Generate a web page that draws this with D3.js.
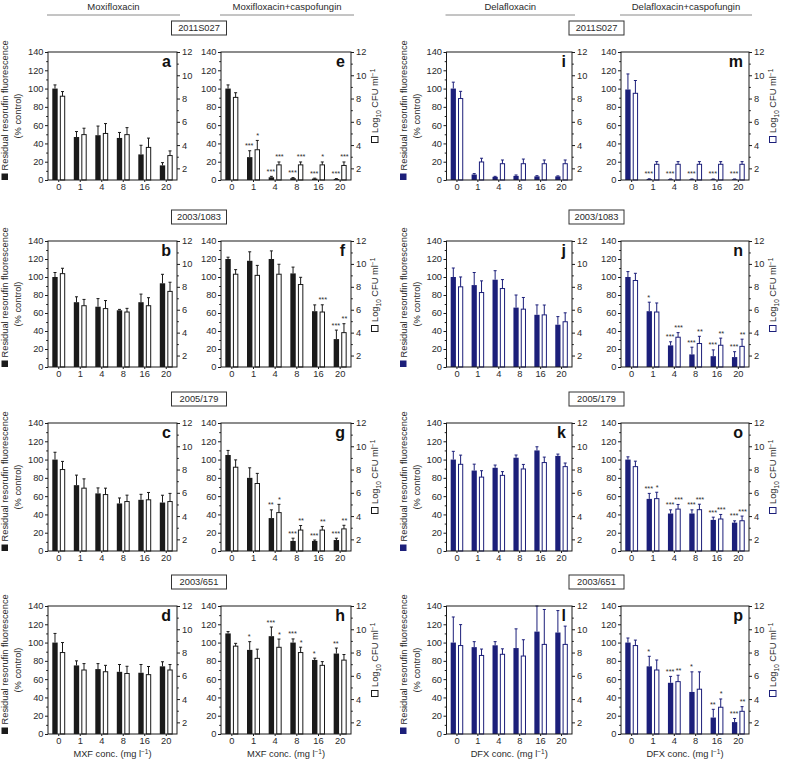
<!DOCTYPE html>
<html><head><meta charset="utf-8">
<script src="https://cdn.jsdelivr.net/npm/d3@7"></script>
<style>body{margin:0;background:#fff}svg{display:block}</style>
</head><body>
<script>
// ---------- DATA ----------
const concentrations = ["0","1","4","8","16","20"];
const leftTicks = [0,20,40,60,80,100,120,140];
const rightTicks = [2,4,6,8,10,12];
const strains = ["2011S027","2003/1083","2005/179","2003/651"];
const groupTitles = ["Moxifloxacin","Moxifloxacin+caspofungin","Delafloxacin","Delafloxacin+caspofungin"];
const xTitleDrugs = ["MXF","MXF","DFX","DFX"];

// fluorescence (% control), SD ; log10 CFU/ml, SD ; significance stars
const fluor_a=[100,47,49,46,28,16], fluorSD_a=[4,6,10,6,10,3];
const cfu_a=[8.2,4.9,5.0,4.9,3.8,3.1], cfuSD_a=[0.4,0.55,0.85,0.6,0.8,0.4];
const fluor_b=[100,72,67,63,72,93], fluorSD_b=[5,6,9,1,9,10];
const cfu_b=[9.15,6.35,6.1,5.8,6.35,7.6], cfuSD_b=[0.47,0.55,0.7,0.32,0.7,0.8];
const fluor_c=[100,72,63,52,56,53], fluorSD_c=[8,11,6,6,6,8];
const cfu_c=[8.0,6.4,5.85,5.25,5.4,5.25], cfuSD_c=[0.7,0.8,0.55,0.55,0.63,0.7];
const fluor_d=[100,75,71,68,67,74], fluorSD_d=[10,5,6,8,9,5];
const cfu_d=[8.0,6.5,6.35,6.2,6.1,6.5], cfuSD_d=[0.86,0.55,0.55,0.62,0.7,0.47];

const fluor_e=[100,25,3,2,1.5,1], fluorSD_e=[4,7,1,0.6,0.5,0.5];
const cfu_e=[8.1,3.6,2.3,2.3,2.3,2.25], cfuSD_e=[0.4,0.8,0.25,0.25,0.25,0.3];
const fluorStars_e=["","***","***","***","***","***"], cfuStars_e=["","*","***","***","*","***"];
const fluor_f=[120,118,120,104,62,31], fluorSD_f=[2,10,9,7,7,10];
const cfu_f=[9.1,9.0,9.1,8.2,5.8,4.0], cfuSD_f=[0.4,0.87,0.87,0.63,0.63,0.78];
const fluorStars_f=["","","","","","***"], cfuStars_f=["","","","","***","**"];
const fluor_g=[105,80,36,11,11,12], fluorSD_g=[5,11,9,3,1,2];
const cfu_g=[8.2,6.8,4.3,2.8,2.8,2.9], cfuSD_g=[0.63,0.87,0.71,0.39,0.31,0.31];
const fluorStars_g=["","","**","***","***","***"], cfuStars_g=["","","*","**","**","**"];
const fluor_h=[110,92,107,100,81,88], fluorSD_h=[2,9,10,4,2,6];
const cfu_h=[8.55,7.5,8.45,8.0,6.9,7.35], cfuSD_h=[0.24,0.79,0.71,0.46,0.32,0.48];
const fluorStars_h=["","*","***","***","*","**"], cfuStars_h=["","","*","*","",""];

const fluor_i=[100,6,3.5,4.5,4,4], fluorSD_i=[7,1,0.5,1,0.7,0.5];
const cfu_i=[8.0,2.55,2.4,2.4,2.4,2.4], cfuSD_i=[0.62,0.32,0.32,0.4,0.32,0.32];
const fluor_j=[100,91,97,66,58,47], fluorSD_j=[10,14,10,14,11,9];
const cfu_j=[8.0,7.5,7.85,6.05,5.55,4.95], cfuSD_j=[0.86,1.02,0.78,1.02,0.86,0.78];
const fluor_k=[100,88,91,102,110,104], fluorSD_k=[9,7,3,3,4,2];
const cfu_k=[8.45,7.35,7.5,8.05,8.6,8.25], cfuSD_k=[0.79,0.55,0.32,0.39,0.47,0.31];
const fluor_l=[100,95,97,94,112,111], fluorSD_l=[28,6,4,21,28,24];
const cfu_l=[8.6,7.75,7.85,7.7,8.7,8.7], cfuSD_l=[1.8,0.55,0.47,1.4,3.0,1.57];

const fluor_m=[99,1,0.8,0.8,0.8,0.8], fluorSD_m=[17,0.3,0.3,0.3,0.3,0.3];
const cfu_m=[8.45,2.35,2.35,2.35,2.35,2.35], cfuSD_m=[1.1,0.23,0.23,0.23,0.23,0.23];
const fluorStars_m=["","***","***","***","***","***"], cfuStars_m=["","","","","",""];
const fluor_n=[100,62,24,14,12,11], fluorSD_n=[6,10,4,8,7,6];
const cfu_n=[8.55,5.8,3.6,3.05,2.9,2.8], cfuSD_n=[0.63,0.79,0.4,0.63,0.62,0.63];
const fluorStars_n=["","*","***","***","***","***"], cfuStars_n=["","","***","**","**","**"];
const fluor_o=[100,57,41,41,34,31], fluorSD_o=[3,6,4,4,3,2];
const cfu_o=[8.25,5.5,4.6,4.55,3.75,3.6], cfuSD_o=[0.47,0.55,0.4,0.47,0.39,0.4];
const fluorStars_o=["","***","***","***","***","***"], cfuStars_o=["","*","***","***","***","***"];
const fluor_p=[100,74,56,46,18,13], fluorSD_p=[5,11,7,22,9,4];
const cfu_p=[8.6,6.5,5.5,4.85,3.3,2.95], cfuSD_p=[0.47,0.86,0.55,1.49,0.71,0.4];
const fluorStars_p=["","*","***","*","**","***"], cfuStars_p=["","","**","","*","**"];

const none6=["","","","","",""];
const panelData = {
  a:[fluor_a,fluorSD_a,cfu_a,cfuSD_a,none6,none6],
  b:[fluor_b,fluorSD_b,cfu_b,cfuSD_b,none6,none6],
  c:[fluor_c,fluorSD_c,cfu_c,cfuSD_c,none6,none6],
  d:[fluor_d,fluorSD_d,cfu_d,cfuSD_d,none6,none6],
  e:[fluor_e,fluorSD_e,cfu_e,cfuSD_e,fluorStars_e,cfuStars_e],
  f:[fluor_f,fluorSD_f,cfu_f,cfuSD_f,fluorStars_f,cfuStars_f],
  g:[fluor_g,fluorSD_g,cfu_g,cfuSD_g,fluorStars_g,cfuStars_g],
  h:[fluor_h,fluorSD_h,cfu_h,cfuSD_h,fluorStars_h,cfuStars_h],
  i:[fluor_i,fluorSD_i,cfu_i,cfuSD_i,none6,none6],
  j:[fluor_j,fluorSD_j,cfu_j,cfuSD_j,none6,none6],
  k:[fluor_k,fluorSD_k,cfu_k,cfuSD_k,none6,none6],
  l:[fluor_l,fluorSD_l,cfu_l,cfuSD_l,none6,none6],
  m:[fluor_m,fluorSD_m,cfu_m,cfuSD_m,fluorStars_m,cfuStars_m],
  n:[fluor_n,fluorSD_n,cfu_n,cfuSD_n,fluorStars_n,cfuStars_n],
  o:[fluor_o,fluorSD_o,cfu_o,cfuSD_o,fluorStars_o,cfuStars_o],
  p:[fluor_p,fluorSD_p,cfu_p,cfuSD_p,fluorStars_p,cfuStars_p]
};
const panelGrid = [["a","b","c","d"],["e","f","g","h"],["i","j","k","l"],["m","n","o","p"]];

// ---------- LAYOUT ----------
const W=786,H=763;
const colX=[48,221,446.5,621], colW=[129,130,125.5,128];
const rowY=[52,241,423,606], rowH=[128,126,128,128];
const NAVY="#1c1f7a", INK="#1a1a1a", TXT="#2a2a2a";
const FONT="'Liberation Sans', Arial, Helvetica, sans-serif";
const FS=9.3;

const svg=d3.select("body").append("svg").attr("width",W).attr("height",H)
  .style("font-family",FONT);

groupTitles.forEach((t,ci)=>{
  const x0=colX[ci]-1, x1=colX[ci]+colW[ci]+3;
  svg.append("line").attr("x1",x0).attr("x2",x1).attr("y1",15).attr("y2",15)
    .attr("stroke","#8a8a8a").attr("stroke-width",1);
  svg.append("text").attr("x",(x0+x1)/2).attr("y",10).attr("text-anchor","middle")
    .attr("font-size",9.5).attr("fill",TXT).text(t);
});

strains.forEach((s,ri)=>{
  [[0,1],[2,3]].forEach(([c0,c1])=>{
    const cx=(colX[c0]+colW[c0]+colX[c1])/2;
    const by=rowY[ri]-31;
    svg.append("rect").attr("x",cx-27.5).attr("y",by).attr("width",55).attr("height",14)
      .attr("fill","#fff").attr("stroke","#333").attr("stroke-width",1);
    svg.append("text").attr("x",cx).attr("y",by+10.3).attr("text-anchor","middle")
      .attr("font-size",FS).attr("fill",TXT).text(s);
  });
});

function drawPanel(ci,ri){
  const key=panelGrid[ci][ri];
  const [fl,flSD,cfu,cfuSD,flSt,cfuSt]=panelData[key];
  const blue=ci>=2, col=blue?NAVY:INK;
  const x0=colX[ci], y0=rowY[ri], w=colW[ci], h=rowH[ri];
  const g=svg.append("g").attr("transform",`translate(${x0},${y0})`);
  const x=d3.scaleBand().domain(concentrations).range([0,w]).padding(0);
  const yL=d3.scaleLinear().domain([0,140]).range([h,0]);
  const yR=d3.scaleLinear().domain([1,12]).range([h,0]);
  const bw=x.bandwidth(), barW=bw*0.25, gap=bw*0.1;
  const rows=concentrations.map((c,i)=>({c,fl:fl[i],flTop:Math.min(140,fl[i]+flSD[i]),cfu:cfu[i],cfuTop:Math.min(12,cfu[i]+cfuSD[i]),fs:flSt[i],cs:cfuSt[i]}));
  const cx=d=>x(d.c)+bw/2;

  g.selectAll(".fb").data(rows).join("rect")
    .attr("x",d=>cx(d)-gap/2-barW).attr("width",barW)
    .attr("y",d=>yL(d.fl)).attr("height",d=>h-yL(d.fl)).attr("fill",col);
  g.selectAll(".cb").data(rows).join("rect")
    .attr("x",d=>cx(d)+gap/2+0.5).attr("width",barW-1)
    .attr("y",d=>yR(d.cfu)).attr("height",d=>h-yR(d.cfu))
    .attr("fill","#fff").attr("stroke",col).attr("stroke-width",1);
  const eb=(xf,y1,y2)=>{
    rows.forEach(d=>{
      const xx=xf(d);
      g.append("line").attr("x1",xx).attr("x2",xx).attr("y1",y1(d)).attr("y2",y2(d)).attr("stroke",col).attr("stroke-width",1);
      g.append("line").attr("x1",xx-1.5).attr("x2",xx+1.5).attr("y1",y2(d)).attr("y2",y2(d)).attr("stroke",col).attr("stroke-width",1);
    });
  };
  eb(d=>cx(d)-gap/2-barW/2, d=>yL(d.fl), d=>yL(d.flTop));
  eb(d=>cx(d)+gap/2+barW/2, d=>yR(d.cfu), d=>yR(d.cfuTop));
  rows.forEach(d=>{
    if(d.fs) g.append("text").attr("x",cx(d)-gap/2-barW/2-0.5).attr("y",yL(d.flTop)-2.5)
      .attr("text-anchor","middle").attr("font-size",7.3).attr("fill",TXT).text(d.fs);
    if(d.cs) g.append("text").attr("x",cx(d)+gap/2+barW/2+0.5).attr("y",yR(d.cfuTop)-2.5)
      .attr("text-anchor","middle").attr("font-size",7.3).attr("fill",TXT).text(d.cs);
  });

  g.append("rect").attr("x",0).attr("y",0).attr("width",w).attr("height",h)
    .attr("fill","none").attr("stroke",INK).attr("stroke-width",1);

  const styleAxis=sel=>{sel.select(".domain").remove();
    sel.selectAll("line").attr("stroke",INK);
    sel.selectAll("text").attr("font-size",FS).attr("fill",TXT).attr("font-family",FONT);};
  g.append("g").call(d3.axisLeft(yL).tickValues(leftTicks).tickSize(3).tickPadding(1.5)).call(styleAxis);
  g.append("g").call(d3.axisLeft(yL).tickValues(d3.range(10,140,20)).tickSize(1.8).tickFormat("")).call(styleAxis);
  g.append("g").attr("transform",`translate(${w},0)`)
    .call(d3.axisRight(yR).tickValues(rightTicks).tickSize(3).tickPadding(2)).call(styleAxis);
  g.append("g").attr("transform",`translate(${w},0)`)
    .call(d3.axisRight(yR).tickValues([3,5,7,9,11]).tickSize(1.8).tickFormat("")).call(styleAxis);
  g.append("g").attr("transform",`translate(0,${h})`)
    .call(d3.axisBottom(x).tickSize(2).tickPadding(1.5)).call(styleAxis);

  g.append("text").attr("x",w-6).attr("y",15).attr("text-anchor","end")
    .attr("font-size",16).attr("font-weight","bold").attr("fill","#111").text(key);

  if(ci===0||ci===2){
    const lg=svg.append("g").attr("transform",`translate(${x0-40},${y0+h}) rotate(-90)`);
    lg.append("rect").attr("x",0).attr("y",-6.5).attr("width",6.5).attr("height",6.5).attr("fill",col);
    lg.append("text").attr("x",9.5).attr("y",0).attr("font-size",FS).attr("fill",TXT)
      .text("Residual resorufin fluorescence");
    lg.append("text").attr("x",h/2).attr("y",13).attr("text-anchor","middle").attr("font-size",FS).attr("fill",TXT)
      .text("(% control)");
  }
  if(ci===1||ci===3){
    const rg=svg.append("g").attr("transform",`translate(${x0+w+27},${y0+91}) rotate(-90)`);
    rg.append("rect").attr("x",0.5).attr("y",-6.5).attr("width",6).attr("height",6.5)
      .attr("fill","#fff").attr("stroke",col).attr("stroke-width",1);
    const t=rg.append("text").attr("x",10).attr("y",0).attr("font-size",FS).attr("fill",TXT);
    t.append("tspan").text("Log");
    t.append("tspan").attr("font-size",6.5).attr("dy",2.5).text("10");
    t.append("tspan").attr("dy",-2.5).text(" CFU ml");
    t.append("tspan").attr("font-size",6.5).attr("dy",-3.5).text("\u22121");
  }
  if(ri===3){
    const t=svg.append("text").attr("x",x0+w/2).attr("y",y0+h+23).attr("text-anchor","middle")
      .attr("font-size",FS).attr("fill",TXT);
    t.append("tspan").text(xTitleDrugs[ci]+" conc. (mg l");
    t.append("tspan").attr("font-size",6.5).attr("dy",-3.5).text("\u22121");
    t.append("tspan").attr("dy",3.5).text(")");
  }
}
for(let ci=0;ci<4;ci++) for(let ri=0;ri<4;ri++) drawPanel(ci,ri);
</script>
</body></html>
